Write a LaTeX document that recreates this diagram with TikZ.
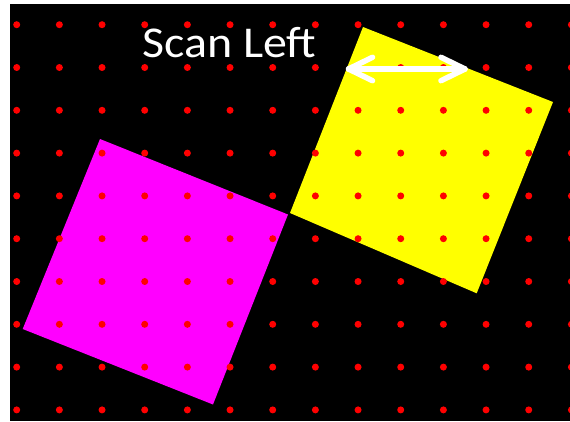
\documentclass[tikz,border=0pt]{standalone}
\usepackage{fontspec}
\setmainfont{Carlito}
\definecolor{magfill}{RGB}{255,0,255}
\definecolor{yelfill}{RGB}{255,255,0}
\definecolor{dotred}{RGB}{255,0,0}
\begin{document}
\begin{tikzpicture}[x=1pt,y=-1pt,
  dotstyle/.style={fill=dotred},
  arrowline/.style={draw=white,line width=5.5pt,line cap=round,line join=round}]
\useasboundingbox (0,0) rectangle (570,421);
\fill[white] (0,0) rectangle (570,421);
\fill[black] (10,4) rectangle (570,421);
\fill[magfill] (100,139) -- (288,214.5) -- (213,404.5) -- (22.7,329) -- cycle;
\fill[yelfill] (363,27) -- (553,102) -- (476.7,293.3) -- (290,213) -- cycle;
\begin{scope}
\clip (10,4) rectangle (570,421);
\foreach \i in {0,...,13} {
  \foreach \j in {0,...,9} {
    \fill[dotstyle] (16.7+42.67*\i, 24.7+42.8*\j) circle (3.5pt);
  }
}
\end{scope}
\node[anchor=base west,text=white,inner sep=0pt,xscale=1.09,font=\fontsize{44}{52}\selectfont] (title) at (142,57.5) {Scan Left};
\coordinate (al) at (348.5,69);
\coordinate (ar) at (465,69);
\draw[arrowline] (al) -- (ar);
\draw[arrowline] (372.5,57.3) -- (al) -- (372.5,80.7);
\draw[arrowline] (441,57.3) -- (ar) -- (441,80.7);
\end{tikzpicture}
\end{document}
